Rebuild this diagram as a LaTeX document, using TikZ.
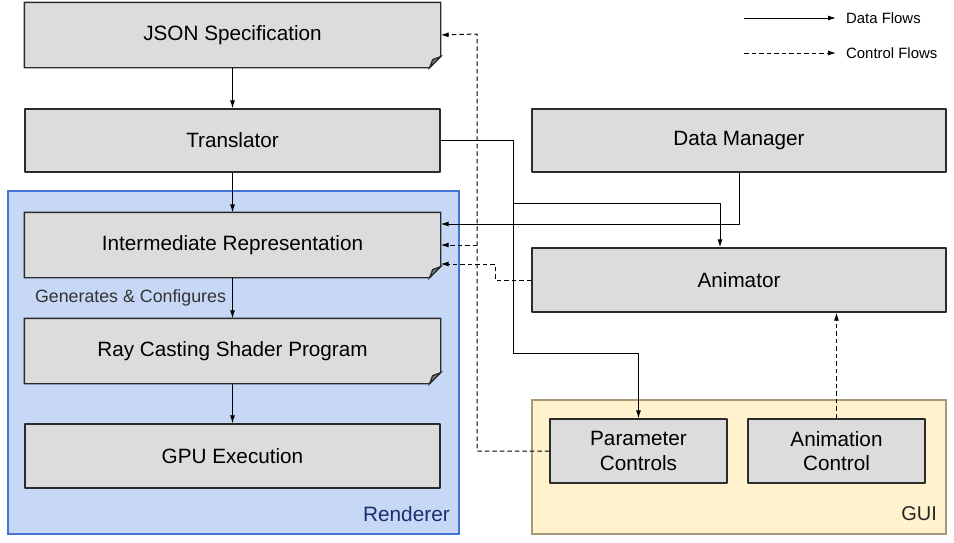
\documentclass[tikz,border=0pt]{standalone}
\usepackage{fontspec}
\setmainfont{Liberation Sans}
\usetikzlibrary{arrows.meta,backgrounds}

\definecolor{boxgray}{HTML}{DCDCDC}
\definecolor{foldgray}{HTML}{808080}
\definecolor{edgegray}{HTML}{2B2B2B}
\definecolor{rendfill}{HTML}{C6D8F6}
\definecolor{rendedge}{HTML}{4474D6}
\definecolor{rendtext}{HTML}{1A2F6E}
\definecolor{guifill}{HTML}{FFF2CC}
\definecolor{guiedge}{HTML}{A8997A}

\pgfdeclarelayer{back}
\pgfdeclarelayer{mid}
\pgfsetlayers{back,mid,main}

% folded corner outline behind a docbox node
\newcommand{\dogear}[1]{
    \draw[boxline, fill=boxgray] (#1.north west) -- (#1.north east) -- ([yshift=11pt]#1.south east)
        -- ([xshift=-11pt]#1.south east) -- (#1.south west) -- cycle;
    \draw[boxline, fill=foldgray] ([yshift=11pt]#1.south east) -- ([xshift=-11pt]#1.south east)
        -- ([xshift=-8pt, yshift=8pt]#1.south east) -- cycle;
}

\begin{document}
\begin{tikzpicture}[
        x = 1pt, y = -1pt,
        line join=round,
        boxline/.style = {draw=edgegray, line width=1.3pt},
        procbox/.style = {boxline, fill=boxgray, minimum width=415pt, minimum height=64pt,
            inner sep=0pt, font=\fontsize{20.7}{24.5}\selectfont, text=black, align=center},
        docbox/.style = {procbox, draw=none, fill=none},
        guibox/.style = {procbox, minimum width=177pt},
        flow/.style = {draw=black, line width=1pt, -{Latex[length=8pt, width=5pt]}},
        ctrl/.style = {flow, dash pattern=on 4.5pt off 3pt}
    ]

    \useasboundingbox (0, 0) rectangle (954, 542);

    % groups
    \begin{pgfonlayer}{back}
        \draw[fill=rendfill, draw=rendedge, line width=1.2pt] (8, 191) rectangle (459, 534);
        \draw[fill=guifill, draw=guiedge, line width=1.2pt] (532, 400) rectangle (946, 534);
    \end{pgfonlayer}
    \node[anchor=east, inner sep=0pt, text=rendtext, font=\fontsize{20.8}{24}\selectfont] (rendlabel) at (450, 514) {Renderer};
    \node[anchor=east, inner sep=0pt, text=black!85, font=\fontsize{20}{24}\selectfont] (guilabel) at (937, 514) {GUI};

    % pipeline
    \node[docbox] (json) at (232.5, 35) {JSON Specification};
    \node[procbox, minimum height=63pt] (trans) at (232.5, 140.5) {Translator};
    \node[docbox] (ir) at (232.5, 245) {Intermediate Representation};
    \node[docbox] (ray) at (232.5, 351) {Ray Casting Shader Program};
    \node[procbox] (gpu) at (232.5, 456) {GPU Execution};

    \begin{pgfonlayer}{mid}
        \dogear{json}
        \dogear{ir}
        \dogear{ray}
    \end{pgfonlayer}

    % right column
    \node[procbox, minimum width=414pt, minimum height=63pt] (dm) at (739, 140.5) {Data Manager};
    \node[procbox, minimum width=414pt] (anim) at (739, 280) {Animator};
    \node[guibox] (param) at (638.5, 451) {Parameter\\Controls};
    \node[guibox] (animctl) at (836.5, 451) {Animation\\Control};

    % legend
    \coordinate (legdata) at (744, 18);
    \coordinate (legctrl) at (744, 53);
    \node[anchor=west, inner sep=0pt, font=\fontsize{14.9}{17}\selectfont] (datatext) at (846, 18) {Data Flows};
    \node[anchor=west, inner sep=0pt, font=\fontsize{14.9}{17}\selectfont] (ctrltext) at (846, 53) {Control Flows};
    \draw[flow] (legdata) -- ([xshift=-10pt]datatext.west);
    \draw[ctrl] (legctrl) -- ([xshift=-10pt]ctrltext.west);

    % data flows
    \draw[flow] (json) -- (trans);
    \draw[flow] (trans) -- (ir);
    \draw[flow] (ir) -- node[left, inner sep=6pt, text=black!80, font=\fontsize{17.8}{21}\selectfont] {Generates \& Configures} (ray);
    \draw[flow] (ray) -- (gpu);
    \draw[flow] (trans.east) -| (513, 353) -| (param.north);
    \draw[flow] (trans.east) -| (513, 203) -| ([xshift=-19pt]anim.north);
    \draw[flow] (dm.south) |- ([yshift=21pt]ir.east);

    % control flows
    \coordinate (ctrlbus) at (477, 245);
    \draw[ctrl] (param.west) -| (477, 34) -- (json.east);
    \draw[ctrl] (ctrlbus) -- (ir.east);
    \draw[ctrl] (anim.west) -| (495, 264) -- ([yshift=-19pt]ir.east);
    \draw[ctrl] (animctl.north) -- (animctl.north |- anim.south);

\end{tikzpicture}
\end{document}
